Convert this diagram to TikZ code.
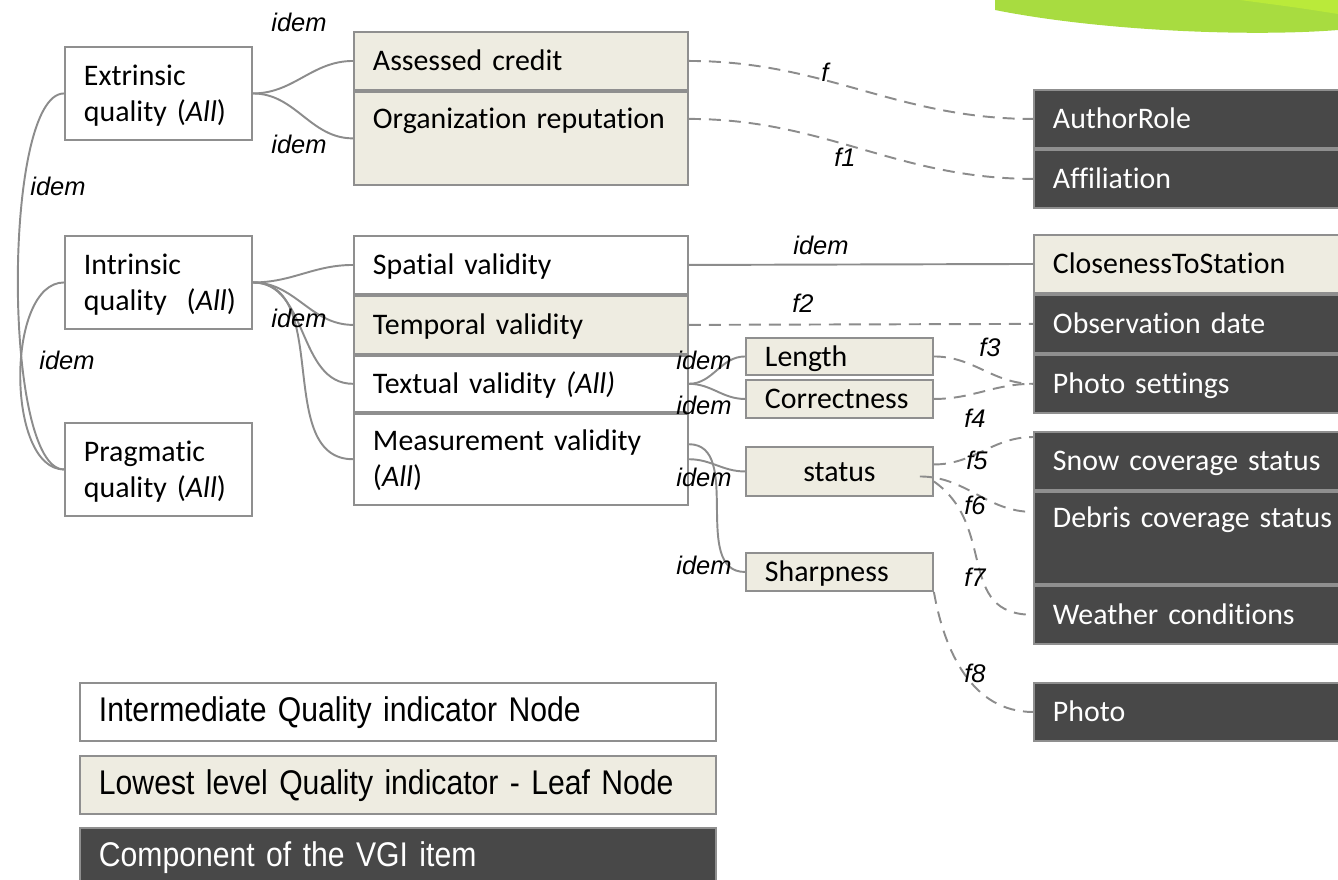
\documentclass[tikz,border=0pt]{standalone}
\usepackage{fontspec}
\setmainfont{Carlito}[Ligatures={NoCommon}]
\newfontfamily\legendfont[FakeStretch=0.88]{Liberation Sans}
\newfontfamily\labelfont{Liberation Sans}
\usetikzlibrary{positioning, calc}
\definecolor{vgiBorder}{HTML}{8F8F8F}
\definecolor{vgiLink}{HTML}{8C8C8C}
\definecolor{vgiBeige}{HTML}{EEECE1}
\definecolor{vgiDark}{HTML}{484848}
\definecolor{vgiLime}{HTML}{A8DC40}
\definecolor{vgiLimeLight}{HTML}{BAEA3A}

\begin{document}
\begin{tikzpicture}[
    x=0.02cm, y=-0.02cm,
    node distance=0pt,
    box/.style={
        draw=vgiBorder, line width=1.1pt, inner xsep=3.8mm, inner ysep=0pt,
        font=\fontsize{17}{20.5}\selectfont, align=left, anchor=north west,
        text height=4.5mm, text depth=0.5mm, minimum height=11.6mm
    },
    quality/.style={box, fill=white},
    leaf/.style={box, fill=vgiBeige},
    comp/.style={box, fill=vgiDark, text=white},
    legend/.style={box, font=\legendfont\fontsize{19.5}{23}\selectfont},
    twoline/.style={text depth=7.8mm},
    tallbox/.style={text depth=8.5mm},
    wL/.style={text width=29.8mm},
    wM/.style={text width=59.2mm},
    wS/.style={text width=29.8mm},
    wR/.style={text width=58mm},
    wG/.style={text width=119.6mm},
    link/.style={draw=vgiLink, line width=1.1pt},
    flink/.style={link, dash pattern=on 2.4mm off 1.6mm},
    lbl/.style={font=\labelfont\itshape\fontsize{14.5}{17}\selectfont, inner sep=0pt}
]
\useasboundingbox (0,0) rectangle (1338,879);
\clip (0,0) rectangle (1338,879);

% === Lime swoosh (top right) ===
\fill[vgiLime] (995,0) -- (1338,0) -- (1338,30) .. controls (1250,37) and (1100,31) .. (995,10) -- cycle;
\fill[vgiLimeLight] (1240,0) -- (1338,0) -- (1338,14) .. controls (1300,8) .. (1240,0) -- cycle;

% === Top level quality nodes ===
\node[quality, wL, minimum height=18.6mm, twoline] (extr) at (64,46) {Extrinsic\\quality (\textit{All})};
\node[quality, wL, minimum height=18.6mm, twoline] (intr) at (64,235) {Intrinsic\\quality~ (\textit{All})};
\node[quality, wL, minimum height=18.6mm, twoline] (prag) at (64,422) {Pragmatic\\quality (\textit{All})};

% === Second level ===
\node[leaf, wM] (acred) at (353,31) {Assessed credit};
\node[leaf, wM, minimum height=18.6mm, tallbox, below=of acred] (orgrep) {Organization reputation};

\node[quality, wM] (spatv) at (353,235) {Spatial validity};
\node[leaf, wM, below=of spatv] (tempv) {Temporal validity};
\node[quality, wM, minimum height=11.2mm, below=of tempv] (textv) {Textual validity \textit{(All)}};
\node[quality, wM, minimum height=18.2mm, twoline, below=of textv] (measv) {Measurement validity\\(\textit{All})};

% === Third level leaves ===
\node[leaf, wS, minimum height=7.4mm] (len) at (745,337) {Length};
\node[leaf, wS, minimum height=7.6mm] (corr) at (745,379) {Correctness};
\node[leaf, wS, minimum height=9.8mm, align=center] (stat) at (745,446) {status};
\node[leaf, wS, minimum height=7.6mm] (sharp) at (745,552) {Sharpness};

% === VGI item components ===
\node[comp, wR] (author) at (1033,89) {AuthorRole};
\node[comp, wR, below=of author] (affil) {Affiliation};

\node[leaf, wR] (close) at (1033,234) {ClosenessToStation};
\node[comp, wR, below=of close] (obsd) {Observation date};
\node[comp, wR, below=of obsd] (photoset) {Photo settings};

\node[comp, wR] (snow) at (1033,431) {Snow coverage status};
\node[comp, wR, minimum height=18.4mm, tallbox, below=of snow] (debris) {Debris coverage status};
\node[comp, wR, below=of debris] (weather) {Weather conditions};

\node[comp, wR] (photo) at (1033,682) {Photo};

% === Legend ===
\node[legend, fill=white, wG] (lgInter) at (79,682) {Intermediate Quality indicator Node};
\node[legend, fill=vgiBeige, wG] (lgLeaf) at (79,755) {Lowest level Quality indicator - Leaf Node};
\node[legend, fill=vgiDark, text=white, wG] (lgComp) at (79,827) {Component of the VGI item};

% === idem links (solid) ===
\draw[link] (extr.west) to[out=180,in=180,looseness=0.42] (prag.west);
\draw[link] (intr.west) to[out=180,in=180,looseness=0.8] (prag.west);

\draw[link] (extr.east) to[out=0,in=180] (acred.west);
\draw[link] (extr.east) to[out=0,in=180] (orgrep.west);

\draw[link] (intr.east) to[out=0,in=180] (spatv.west);
\draw[link] (intr.east) to[out=0,in=180] (tempv.west);
\draw[link] (intr.east) to[out=0,in=180] (textv.west);
\draw[link] (intr.east) to[out=0,in=180] (measv.west);

\draw[link] (spatv.east) -- (close.west);

\draw[link] (textv.east) to[out=0,in=180] (len.west);
\draw[link] (textv.east) to[out=0,in=180] (corr.west);
\draw[link] (measv.east) to[out=0,in=180] (stat.west);
\draw[link] ($(measv.east)+(0,-15)$) to[out=0,in=180] (sharp.west);

% === Mapping functions (dashed) ===
\draw[flink] (acred.east) to[out=0,in=180] (author.west);
\draw[flink] ($(orgrep.north east)+(0,28)$) to[out=0,in=180] (affil.west);
\draw[flink] (tempv.east) -- (obsd.west);
\draw[flink] (len.east) to[out=0,in=180] (photoset.west);
\draw[flink] (corr.east) to[out=0,in=180] (photoset.west);
\draw[flink] ($(stat.east)+(0,-7)$) to[out=0,in=180] ($(snow.north west)+(0,6)$);
\draw[flink] ($(stat.east)+(-14,5)$) to[out=0,in=180] ($(debris.north west)+(0,21)$);
\draw[flink] ($(stat.east)+(0,10)$) to[out=-35,in=180,looseness=1.2] (weather.west);
\draw[flink] (sharp.south east) to[out=-80,in=180] (photo.west);

% === Labels ===
\node[lbl] (idTop) at (299,22) {idem};
\node[lbl] (idOrg) at (299,144) {idem};
\node[lbl] (idLeftA) at (58,186) {idem};
\node[lbl] (idLeftB) at (67,360) {idem};
\node[lbl] (idIntr) at (299,318) {idem};
\node[lbl] (idClose) at (821,245) {idem};
\node[lbl] (idLen) at (704,360) {idem};
\node[lbl] (idCorr) at (704,405) {idem};
\node[lbl] (idStat) at (704,477) {idem};
\node[lbl] (idSharp) at (704,565) {idem};
\node[lbl] (fA) at (825,72) {f};
\node[lbl] (fOne) at (845,157) {f1};
\node[lbl] (fTwo) at (803,303) {f2};
\node[lbl] (fThree) at (990,347) {f3};
\node[lbl] (fFour) at (975,418) {f4};
\node[lbl] (fFive) at (977,460) {f5};
\node[lbl] (fSix) at (975,505) {f6};
\node[lbl] (fSeven) at (975,577) {f7};
\node[lbl] (fEight) at (975,673) {f8};

\end{tikzpicture}
\end{document}
